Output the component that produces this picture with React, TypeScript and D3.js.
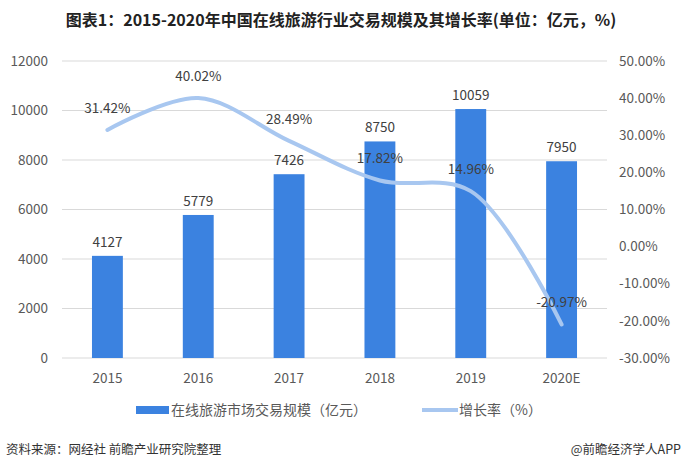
import React from "react";
import * as d3 from "d3";

const categories = ["2015", "2016", "2017", "2018", "2019", "2020E"];
const scaleValues = [4127, 5779, 7426, 8750, 10059, 7950];
const growthRates = [31.42, 40.02, 28.49, 17.82, 14.96, -20.97];
const leftTicks = [0, 2000, 4000, 6000, 8000, 10000, 12000];
const rightTicks = [-30, -20, -10, 0, 10, 20, 30, 40, 50];

const W = 683;
const H = 471;
const M = { left: 62, right: 607, top: 61, bottom: 358 };
const FONT = "'Noto Sans CJK SC', 'Open Sans', sans-serif";

export default function App() {
  const x = d3.scaleBand<string>().domain(categories).range([M.left, M.right]).paddingInner(0.66).paddingOuter(0.33);
  const yL = d3.scaleLinear().domain([0, 12000]).range([M.bottom, M.top]);
  const yR = d3.scaleLinear().domain([-30, 50]).range([M.bottom, M.top]);
  const cx = (c: string) => (x(c) as number) + x.bandwidth() / 2;

  const line = d3
    .line<number>()
    .x((_, i) => cx(categories[i]))
    .y((d) => yR(d))
    .curve(d3.curveCatmullRom.alpha(0.5));

  return (
    <svg width={W} height={H} style={{ position: "absolute", left: 0, top: 0, background: "#fff" }} fontFamily={FONT}>
      <rect x={0} y={0} width={W} height={H} fill="#fff" />

      <text x={341} y={26} textAnchor="middle" fontSize={16} fontWeight="bold" fill="#222">
        图表1：2015-2020年中国在线旅游行业交易规模及其增长率(单位：亿元，%)
      </text>

      {leftTicks.map((t) => (
        <g key={"l" + t}>
          <line x1={M.left} x2={M.right} y1={yL(t)} y2={yL(t)} stroke="#d9d9d9" strokeWidth={1} />
          <text x={48} y={yL(t)} dy="0.35em" textAnchor="end" fontSize={13.5} fill="#595959">
            {t}
          </text>
        </g>
      ))}
      {rightTicks.map((t) => (
        <text key={"r" + t} x={619} y={yR(t)} dy="0.35em" textAnchor="start" fontSize={13.5} fill="#595959">
          {t.toFixed(2)}%
        </text>
      ))}

      {categories.map((c, i) => (
        <g key={c}>
          <rect x={x(c)} y={yL(scaleValues[i])} width={x.bandwidth()} height={yL(0) - yL(scaleValues[i])} fill="#3b82e0" />
          <text x={cx(c)} y={yL(scaleValues[i]) - 9} textAnchor="middle" fontSize={13.5} fill="#404040">
            {scaleValues[i]}
          </text>
          <text x={cx(c)} y={383} textAnchor="middle" fontSize={13.5} fill="#595959">
            {c}
          </text>
        </g>
      ))}

      <path d={line(growthRates) || ""} fill="none" stroke="#a8c7f0" strokeWidth={4} strokeLinecap="round" />
      {growthRates.map((g, i) => (
        <text key={"g" + i} x={cx(categories[i])} y={yR(g) - 17} textAnchor="middle" fontSize={13.5} fill="#404040">
          {g.toFixed(2)}%
        </text>
      ))}

      <rect x={136} y={406} width={33} height={8} fill="#3b82e0" />
      <text x={171} y={410} dy="0.35em" fontSize={14} fill="#595959">
        在线旅游市场交易规模（亿元）
      </text>
      <line x1={422} x2={458} y1={410} y2={410} stroke="#a8c7f0" strokeWidth={4} />
      <text x={459} y={410} dy="0.35em" fontSize={14} fill="#595959">
        增长率（%）
      </text>

      <text x={6} y={450} dy="0.35em" fontSize={12.5} fill="#333">
        资料来源：网经社 前瞻产业研究院整理
      </text>
      <text x={681} y={450} dy="0.35em" textAnchor="end" fontSize={12.5} fill="#333">
        @前瞻经济学人APP
      </text>
    </svg>
  );
}
